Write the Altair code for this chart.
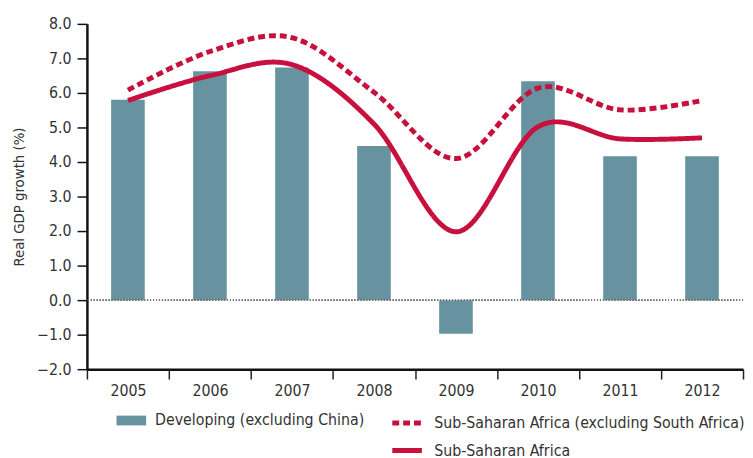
import altair as alt
import pandas as pd

years = ["2005", "2006", "2007", "2008", "2009", "2010", "2011", "2012"]
developing = [5.80, 6.63, 6.74, 4.46, -0.97, 6.34, 4.17, 4.17]
ssa_ex_sa = [6.08, 7.20, 7.60, 6.02, 4.10, 6.14, 5.51, 5.78]
ssa = [5.78, 6.50, 6.82, 5.10, 1.98, 5.02, 4.67, 4.70]
y_ticks = [-2, -1, 0, 1, 2, 3, 4, 5, 6, 7, 8]

bar_name = "Developing (excluding China)"
dash_name = "Sub-Saharan Africa (excluding South Africa)"
solid_name = "Sub-Saharan Africa"

TEAL = "#66939f"
RED = "#c8103f"
TXT = "#333333"
FONT = "DejaVu Sans Condensed, Liberation Sans Narrow, sans-serif"

bars_df = pd.DataFrame({"year": years, "value": developing, "bseries": bar_name})
lines_df = pd.DataFrame({
    "year": years * 2,
    "value": ssa_ex_sa + ssa,
    "lseries": [dash_name] * len(years) + [solid_name] * len(years),
})

xscale = alt.Scale(domain=years, paddingInner=0, paddingOuter=0)
yscale = alt.Scale(domain=[-2, 8], nice=False, zero=False)

x_axis = alt.Axis(
    title=None, tickBand="extent", labelFontSize=16, labelColor=TXT, labelFont=FONT,
    labelPadding=4, tickSize=10, tickColor="#222222", tickWidth=1.5,
    domainColor="#111111", domainWidth=2.5, grid=False, labelAngle=0,
)
y_axis = alt.Axis(
    title="Real GDP growth (%)", titleFontSize=15, titleFont=FONT, titleColor=TXT,
    titleFontWeight="normal", titlePadding=10,
    values=y_ticks, format=".1f", labelOverlap=False,
    labelFontSize=16, labelFont=FONT, labelColor=TXT, labelPadding=6,
    tickSize=10, tickColor="#111111", tickWidth=1.5,
    domainColor="#111111", domainWidth=2.5, grid=False,
)

bars = alt.Chart(bars_df).mark_bar(width=alt.RelativeBandSize(0.41)).encode(
    x=alt.X("year:O", scale=xscale, axis=x_axis, sort=years),
    y=alt.Y("value:Q", scale=yscale, axis=y_axis),
    fill=alt.Fill("bseries:N", scale=alt.Scale(domain=[bar_name], range=[TEAL]),
                  legend=alt.Legend(
                      orient="none", legendX=30, legendY=387, title=None,
                      symbolType="M-1,-0.33L1,-0.33L1,0.33L-1,0.33Z", symbolSize=900,
                      symbolStrokeWidth=0, symbolOpacity=1, labelLimit=500,
                      labelFontSize=16, labelFont=FONT, labelColor=TXT, labelOffset=9,
                  )),
)

zero = alt.Chart(bars_df).mark_rule(color="#777777", strokeWidth=1, strokeDash=[1, 2]).encode(
    y=alt.Y(datum=0, scale=yscale, axis=y_axis)
)

lines = alt.Chart(lines_df).mark_line(
    color=RED, strokeWidth=5, interpolate="cardinal", strokeCap="butt"
).encode(
    x=alt.X("year:O", scale=xscale, sort=years, axis=x_axis),
    y=alt.Y("value:Q", scale=yscale, axis=y_axis),
    strokeDash=alt.StrokeDash(
        "lseries:N",
        scale=alt.Scale(domain=[dash_name, solid_name], range=[[7, 4], [1, 0]]),
        legend=alt.Legend(
            orient="none", legendX=307, legendY=387, title=None, direction="vertical",
            symbolType="stroke", symbolSize=900, symbolStrokeColor=RED, symbolStrokeWidth=5,
            labelFontSize=16, labelFont=FONT, labelColor=TXT, labelOffset=10, rowPadding=-2,
            labelLimit=500,
        ),
    ),
    detail="lseries:N",
)

chart = alt.layer(bars, zero, lines).resolve_legend(fill="independent", strokeDash="independent").properties(
    width=665, height=350,
    padding={"left": 4, "top": 5, "right": 0, "bottom": 0},
    background="white",
).configure_view(stroke=None)

chart.save("out.html", embed_options={"renderer": "svg", "actions": False})
